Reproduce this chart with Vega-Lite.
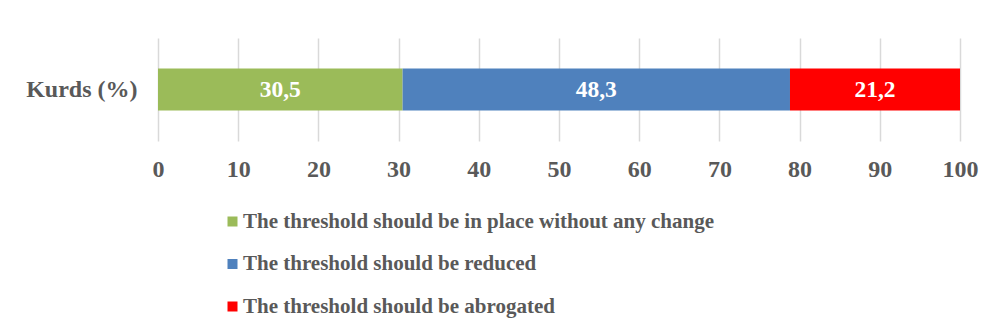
{
  "$schema": "https://vega.github.io/schema/vega-lite/v6.json",
  "width": 802,
  "height": 103,
  "autosize": {"type": "none"},
  "padding": {"left": 158, "top": 38, "right": 33, "bottom": 194},
  "background": "white",
  "data": {
    "values": [
      {"group": "Kurds (%)", "answer": "The threshold should be in place without any change", "value": 30.5, "idx": 1},
      {"group": "Kurds (%)", "answer": "The threshold should be reduced", "value": 48.3, "idx": 2},
      {"group": "Kurds (%)", "answer": "The threshold should be abrogated", "value": 21.2, "idx": 3}
    ]
  },
  "transform": [
    {"stack": "value", "groupby": ["group"], "sort": [{"field": "idx"}], "as": ["v0", "v1"]},
    {"calculate": "(datum.v0 + datum.v1) / 2", "as": "mid"}
  ],
  "encoding": {
    "y": {
      "field": "group",
      "type": "nominal",
      "scale": {"paddingInner": 0.42, "paddingOuter": 0.42},
      "axis": {
        "title": null,
        "domain": false,
        "ticks": false,
        "labelPadding": 21,
        "labelFont": "Liberation Serif",
        "labelFontWeight": "bold",
        "labelFontSize": 24,
        "labelColor": "#595959",
        "labelLimit": 300
      }
    }
  },
  "layer": [
    {
      "mark": {"type": "bar"},
      "encoding": {
        "x": {
          "field": "v0",
          "type": "quantitative",
          "scale": {"domain": [0, 100], "nice": false},
          "axis": {
            "title": null,
            "values": [0, 10, 20, 30, 40, 50, 60, 70, 80, 90, 100],
            "grid": true,
            "gridColor": "#d9d9d9",
            "gridWidth": 1.5,
            "domain": false,
            "ticks": false,
            "labelFlush": false,
            "labelPadding": 16,
            "labelFont": "Liberation Serif",
            "labelFontWeight": "bold",
            "labelFontSize": 24,
            "labelColor": "#595959",
            "format": "d"
          }
        },
        "x2": {"field": "v1"},
        "color": {
          "field": "answer",
          "type": "nominal",
          "sort": ["The threshold should be in place without any change", "The threshold should be reduced", "The threshold should be abrogated"],
          "scale": {
            "domain": ["The threshold should be in place without any change", "The threshold should be reduced", "The threshold should be abrogated"],
            "range": ["#9BBB59", "#4F81BD", "#FF0000"]
          },
          "legend": {
            "title": null,
            "orient": "none",
            "legendX": 64,
            "legendY": 173,
            "direction": "vertical",
            "symbolType": "square",
            "symbolSize": 100,
            "symbolStrokeWidth": 0,
            "labelFont": "Liberation Serif",
            "labelFontWeight": "bold",
            "labelFontSize": 21,
            "labelColor": "#595959",
            "labelOffset": 0,
            "labelLimit": 800,
            "rowPadding": 20.5,
            "padding": 0
          }
        }
      }
    },
    {
      "mark": {"type": "text", "color": "white", "font": "Liberation Serif", "fontWeight": "bold", "fontSize": 23.5, "baseline": "middle", "align": "center"},
      "encoding": {
        "x": {"field": "mid", "type": "quantitative"},
        "text": {"field": "value", "type": "quantitative", "format": ".1f"}
      }
    }
  ],
  "config": {
    "view": {"stroke": null},
    "locale": {"number": {"decimal": ",", "thousands": ".", "grouping": [3], "currency": ["", "€"]}}
  }
}
